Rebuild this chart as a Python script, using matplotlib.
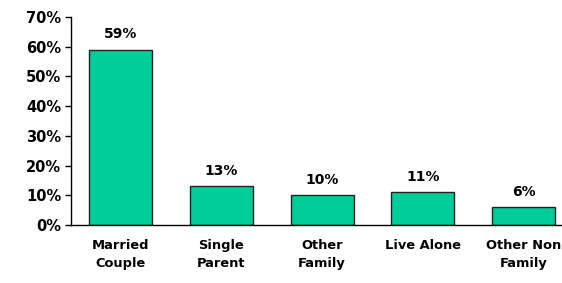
import matplotlib
matplotlib.use("Agg")
import matplotlib.pyplot as plt
from matplotlib.ticker import FuncFormatter

categories = ["Married\nCouple", "Single\nParent", "Other\nFamily", "Live Alone", "Other Non\nFamily"]
values = [59, 13, 10, 11, 6]
yticks = [0, 10, 20, 30, 40, 50, 60, 70]

plt.rcParams['font.family'] = ['DejaVu Sans']
plt.rcParams['font.weight'] = 'bold'

fig = plt.figure(figsize=(5.62, 2.83), dpi=100)
ax = fig.add_axes([71/562, 58/283, 1 - 71/562, (225-17)/283])

x = list(range(len(categories)))
bars = ax.bar(x, values, width=0.625, color="#00CC99", edgecolor="#222222", linewidth=1.0)
for xi, v in zip(x, values):
    ax.annotate(f"{v}%", (xi, v), xytext=(0, 6), textcoords="offset points",
                ha="center", va="bottom", fontsize=10, fontweight="bold")

ax.set_xlim(-0.49, 4.38)
ax.set_ylim(0, 70)
ax.set_yticks(yticks)
ax.yaxis.set_major_formatter(FuncFormatter(lambda v, p: f"{int(v)}%"))
ax.set_xticks(x)
ax.set_xticklabels(categories, fontsize=9.4, fontweight="bold", linespacing=1.5)
ax.tick_params(axis="x", length=0, pad=10)
ax.tick_params(axis="y", length=4, width=1, direction="out", labelsize=10.5, pad=3)
for s in ["top", "right"]:
    ax.spines[s].set_visible(False)
ax.spines["left"].set_linewidth(1)
ax.spines["bottom"].set_linewidth(1)

fig.savefig("out.png", dpi=100)
